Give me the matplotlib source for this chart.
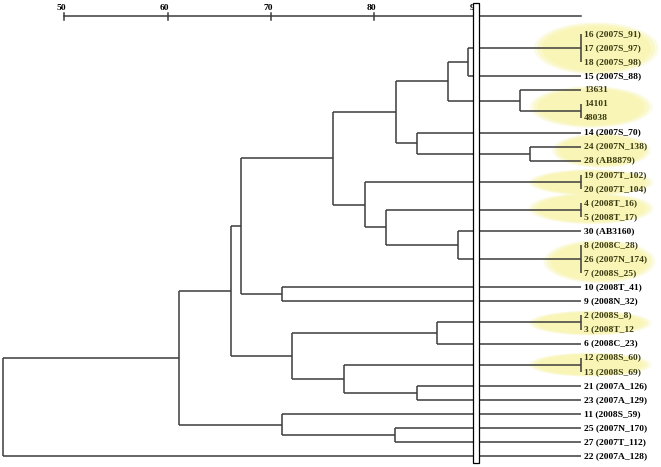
import matplotlib
matplotlib.use("Agg")
import matplotlib.pyplot as plt
from matplotlib.patches import Ellipse, Rectangle

# leaf labels, top to bottom
leaves = ["16 (2007S_91)", "17 (2007S_97)", "18 (2007S_98)", "15 (2007S_88)",
          "13631", "14101", "48038", "14 (2007S_70)", "24 (2007N_138)",
          "28 (AB8879)", "19 (2007T_102)", "20 (2007T_104)", "4 (2008T_16)",
          "5 (2008T_17)", "30 (AB3160)", "8 (2008C_28)", "26 (2007N_174)",
          "7 (2008S_25)", "10 (2008T_41)", "9 (2008N_32)", "2 (2008S_8)",
          "3 (2008T_12", "6 (2008C_23)", "12 (2008S_60)", "13 (2008S_69)",
          "21 (2007A_126)", "23 (2007A_129)", "11 (2008S_59)",
          "25 (2007N_170)", "27 (2007T_112)", "22 (2007A_128)"]
highlighted = [0, 1, 2, 4, 5, 6, 8, 9, 10, 11, 12, 13, 15, 16, 17, 20, 21, 23, 24]

# merges: children (leaf index, or 31 + merge row), similarity in %
merge_children = [[0, 1, 2], [31, 3], [5, 6], [4, 33], [32, 34], [8, 9],
                  [7, 36], [35, 37], [10, 11], [12, 13], [15, 16, 17],
                  [14, 41], [40, 42], [39, 43], [38, 44], [18, 19], [45, 46],
                  [20, 21], [48, 22], [23, 24], [25, 26], [50, 51], [49, 52],
                  [47, 53], [28, 29], [27, 55], [54, 56], [57, 30]]
merge_sim = [100, 89.05, 100, 94.1, 87.1, 95.1, 84.1, 82.1, 100, 100,
             100, 88.1, 81.1, 79.1, 76.0, 71.1, 67.1, 100, 86.1, 100, 84.1,
             77.1, 72.0, 66.1, 82.0, 71.1, 61.1, 44.1]

scale_ticks = [50, 60, 70, 80, 90]

n = len(leaves)
fig = plt.figure(figsize=(6.61, 4.67), dpi=100)
ax = fig.add_axes([0, 0, 1, 1])
ax.set_xlim(43.78, 107.76)
ax.set_ylim(30.77, -2.416)
ax.axis("off")

# highlight ellipses (center x, center y, width, height)
blobs = [(101.5, 1.03, 11.4, 3.5), (101.0, 5.19, 11.2, 2.8),
         (102.0, 8.28, 9.0, 2.3), (101.0, 10.55, 11.4, 1.75),
         (101.0, 12.4, 11.4, 2.1), (101.8, 16.17, 10.2, 2.9),
         (100.9, 20.54, 11.2, 1.65), (100.9, 23.5, 11.2, 1.6)]
for cx, cy, w, h in blobs:
    for k, a in [(1.06, 0.35), (1.0, 0.6), (0.92, 1.0)]:
        ax.add_patch(Ellipse((cx, cy), w * k, h * k, facecolor="#f9f5b6",
                             edgecolor="none", alpha=a, zorder=1))

pos = {i: i for i in range(n)}
sim = {i: 100 for i in range(n)}
lc = "#3c3c3c"
lw = 1.1
for k, (ch, s) in enumerate(zip(merge_children, merge_sim)):
    node = n + k
    ys = [pos[c] for c in ch]
    for c in ch:
        ax.plot([sim[c], s], [pos[c], pos[c]], color=lc, lw=lw, zorder=2,
                solid_capstyle="butt")
    ax.plot([s, s], [min(ys), max(ys)], color=lc, lw=lw, zorder=2,
            solid_capstyle="butt")
    pos[node] = (pos[ch[0]] + pos[ch[-1]]) / 2
    sim[node] = s

for i, lab in enumerate(leaves):
    col = "#3a3a12" if i in highlighted else "black"
    ax.text(100.3, i, lab, fontsize=6.8, fontweight="bold",
            family="Liberation Serif", color=col, va="center", ha="left",
            zorder=4)

# scale bar on top
ax.plot([50, 100], [-1.30, -1.30], color=lc, lw=lw, zorder=2)
for t in scale_ticks:
    ax.plot([t, t], [-1.49, -1.0], color=lc, lw=lw, zorder=2)
    ax.text(t - 0.3, -1.85, str(t), fontsize=6.8, fontweight="bold",
            family="Liberation Serif", ha="center", va="center", zorder=2)

# cut-off bar
ax.add_patch(Rectangle((89.55, -2.2), 0.58, 32.69, facecolor="white",
                       edgecolor="black", lw=0.9, zorder=3))

fig.savefig("out.png", dpi=100)
